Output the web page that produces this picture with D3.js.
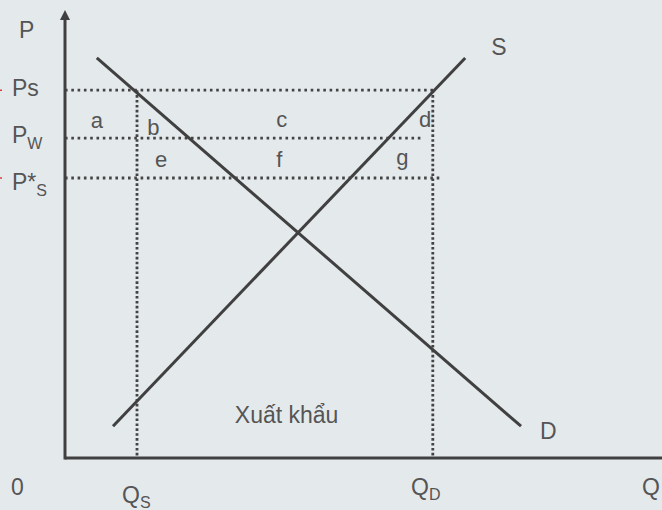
<!doctype html>
<html lang="vi">
  <head>
    <meta charset="UTF-8" />
    <title>Xuất khẩu</title>
    <script src="https://unpkg.com/d3@7.9.0/dist/d3.min.js"></script>
    <style>
      body {
        margin: 0;
        overflow: hidden;
        background: #e4e9ec;
      }
      text {
        font-family: 'Liberation Sans', Arial, sans-serif;
        fill: #555;
      }
      .lbl {
        font-size: 23px;
      }
      .sub {
        font-size: 16px;
      }
      .curve {
        stroke: #404040;
        stroke-width: 3;
        fill: none;
      }
      .dots {
        stroke: #444;
        stroke-width: 2.8;
        fill: none;
      }
    </style>
  </head>
  <body>
    <svg width="662" height="510"></svg>

    <script>
      // curves: [Q, P] end points
      const demand = [[0.53, 8.93], [7.6, 0.71]];
      const supply = [[0.8, 0.71], [6.67, 8.93]];

      // price levels and how far the dotted line runs to the right
      const priceLevels = ['Ps', 'Pw', 'P*s'];
      const priceValues = [8.21, 7.14, 6.25];
      const priceEnds = [6.17, 5.97, 6.28];

      // quantities
      const qtyNames = ['Qs', 'Qd'];
      const qtyValues = [1.2, 6.13];

      // area letters
      const areaNames = ['a', 'b', 'c', 'd', 'e', 'f', 'g'];
      const areaQ = [0.43, 1.37, 3.52, 5.9, 1.5, 3.52, 5.52];
      const areaP = [7.37, 7.21, 7.39, 7.39, 6.5, 6.5, 6.55];

      const width = 662,
        height = 510;
      const origin = { x: 65, y: 458 };

      const svg = d3.select('svg');

      const x = d3.scaleLinear().domain([0, 10]).range([origin.x, origin.x + 600]);
      const y = d3.scaleLinear().domain([0, 10]).range([origin.y, 10]);

      const line = d3
        .line()
        .x((d) => x(d[0]))
        .y((d) => y(d[1]));

      // dotted price lines
      svg
        .selectAll('.hdots')
        .data(priceValues)
        .enter()
        .append('line')
        .attr('class', 'dots')
        .attr('x1', x(0))
        .attr('x2', (d, i) => x(priceEnds[i]))
        .attr('y1', (d) => y(d))
        .attr('y2', (d) => y(d))
        .attr('stroke-dasharray', '2.6 3.7');

      // dotted quantity lines
      svg
        .selectAll('.vdots')
        .data(qtyValues)
        .enter()
        .append('line')
        .attr('class', 'dots')
        .attr('x1', (d) => x(d))
        .attr('x2', (d) => x(d))
        .attr('y1', y(priceValues[0]))
        .attr('y2', y(0))
        .attr('stroke-dasharray', '2.6 2.3');

      // axes
      svg
        .append('line')
        .attr('class', 'curve')
        .attr('x1', x(0))
        .attr('x2', x(0))
        .attr('y1', y(0) + 1.5)
        .attr('y2', 16);
      svg
        .append('path')
        .attr('d', `M${x(0)},10 L${x(0) - 5},20 L${x(0) + 5},20 Z`)
        .attr('fill', '#404040');
      svg
        .append('line')
        .attr('class', 'curve')
        .attr('x1', x(0))
        .attr('x2', width)
        .attr('y1', y(0))
        .attr('y2', y(0));

      svg.append('path').attr('class', 'curve').attr('d', line(demand));
      svg.append('path').attr('class', 'curve').attr('d', line(supply));

      // little red marks at the left border
      [priceValues[0], priceValues[2]].forEach((p) => {
        svg
          .append('line')
          .attr('x1', 0)
          .attr('x2', 2)
          .attr('y1', y(p))
          .attr('y2', y(p))
          .attr('stroke', '#e23a3a')
          .attr('stroke-width', 1.5);
      });

      // text with optional subscript
      function label(main, sub, px, py, subDy) {
        const t = svg.append('text').attr('class', 'lbl').attr('x', px).attr('y', py);
        t.append('tspan').text(main);
        if (sub) {
          t.append('tspan')
            .attr('class', 'sub')
            .attr('dy', subDy)
            .text(sub);
        }
        return t;
      }

      label('P', null, 19, 38);
      label('Ps', null, 12, y(priceValues[0]) + 6);
      label('P', 'W', 12, y(priceValues[1]) + 5, 6);
      label('P*', 'S', 12, y(priceValues[2]) + 12, 6);

      label('0', null, 11, 495);
      label('Q', 'S', 122, 503, 5);
      label('Q', 'D', 411, 495, 5);
      label('Q', null, 642, 495);

      label('S', null, x(supply[1][0]) + 26, y(supply[1][1]) - 3);
      label('D', null, x(demand[1][0]) + 19, y(demand[1][1]) + 13);

      svg
        .selectAll('.area')
        .data(areaNames)
        .enter()
        .append('text')
        .attr('class', 'lbl area')
        .attr('x', (d, i) => x(areaQ[i]))
        .attr('y', (d, i) => y(areaP[i]))
        .style('font-size', '22px')
        .text((d) => d);

      svg
        .append('text')
        .attr('class', 'lbl')
        .attr('x', x(2.83))
        .attr('y', y(0.78))
        .text('Xuất khẩu');
    </script>
  </body>
</html>
